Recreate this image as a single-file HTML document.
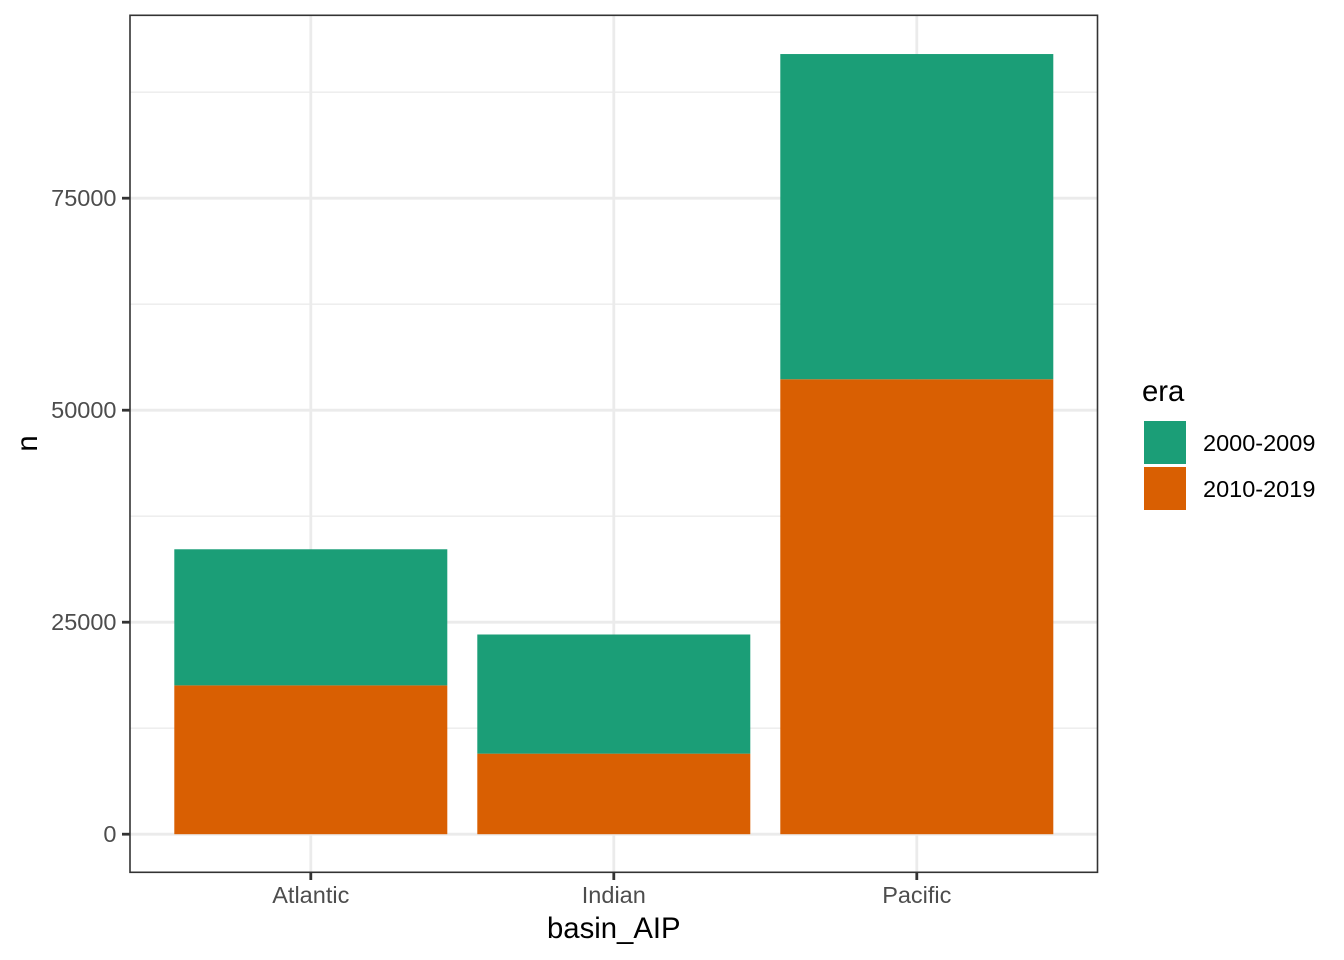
<!DOCTYPE html>
<html>
<head>
<meta charset="utf-8">
<style>
html,body{margin:0;padding:0;background:#fff;width:1344px;height:960px;overflow:hidden}
svg{display:block;font-family:"Liberation Sans",Arial,sans-serif}
</style>
</head>
<body>
<svg id="chart" width="1344" height="960" viewBox="0 0 1344 960" xmlns="http://www.w3.org/2000/svg"></svg>
<script>
const categories = ["Atlantic", "Indian", "Pacific"];
const seriesNames = ["2000-2009", "2010-2019"];
const values2000 = [16050, 14050, 38350];
const values2010 = [17550, 9500, 53650];
const yTicks = [0, 25000, 50000, 75000];
const yMinorTicks = [12500, 37500, 62500, 87500];

const colors = ["#1B9E77", "#D95F02"];
const svg = document.getElementById("chart");
const NS = "http://www.w3.org/2000/svg";
const panel = {l: 130, r: 1097.5, t: 15.3, b: 872.3};

function y(v) { return 834.2 - v * 212 / 25000; }
function x(i) { return 310.8 + i * 303; }
const barWidth = 273;

function add(tag, attrs, text) {
  const el = document.createElementNS(NS, tag);
  for (const k in attrs) el.setAttribute(k, attrs[k]);
  if (text !== undefined) el.textContent = text;
  svg.appendChild(el);
  return el;
}

const bg = add("rect", {x: 0, y: 0, width: 1344, height: 960, fill: "#fff"});



yMinorTicks.forEach(function (v) {
  const g = add("line", {x1: panel.l, x2: panel.r, y1: y(v), y2: y(v), stroke: "#EBEBEB", "stroke-width": 1.4});
  
  
});
yTicks.forEach(function (v) {
  const g = add("line", {x1: panel.l, x2: panel.r, y1: y(v), y2: y(v), stroke: "#EBEBEB", "stroke-width": 2.8});
  
  
});
categories.forEach(function (c, i) {
  const g = add("line", {x1: x(i), x2: x(i), y1: panel.t, y2: panel.b, stroke: "#EBEBEB", "stroke-width": 2.8});
  
  
});

categories.forEach(function (c, i) {
  const lower = values2010[i];
  const upper = values2000[i];
  const b1 = add("rect", {x: x(i) - barWidth / 2, width: barWidth, y: y(lower), height: y(0) - y(lower), fill: colors[1]});
  
  
  const b2 = add("rect", {x: x(i) - barWidth / 2, width: barWidth, y: y(lower + upper), height: y(lower) - y(lower + upper), fill: colors[0]});
  
  
});

const border = add("rect", {x: panel.l, y: panel.t, width: panel.r - panel.l, height: panel.b - panel.t, fill: "none", stroke: "#333333", "stroke-width": 1.6});



yTicks.forEach(function (v) {
  const t = add("line", {x1: 122, x2: panel.l, y1: y(v), y2: y(v), stroke: "#333333", "stroke-width": 2.8});
  
  
  const l = add("text", {x: 116.5, y: y(v) + 8, "text-anchor": "end", "font-size": 23.5, fill: "#4D4D4D"}, String(v));
  
  
});
categories.forEach(function (c, i) {
  const t = add("line", {x1: x(i), x2: x(i), y1: panel.b, y2: 880, stroke: "#333333", "stroke-width": 2.8});
  
  
  const l = add("text", {x: x(i), y: 903, "text-anchor": "middle", "font-size": 23.5, fill: "#4D4D4D"}, c);
  
  
});

const xt = add("text", {x: 613.8, y: 938, "text-anchor": "middle", "font-size": 29.3, fill: "#000"}, "basin_AIP");


const yt = add("text", {x: 0, y: 0, "text-anchor": "middle", "font-size": 29.3, fill: "#000", transform: "translate(37,443.5) rotate(-90)"}, "n");



const lt = add("text", {x: 1142, y: 401, "font-size": 29.3, fill: "#000"}, "era");



seriesNames.forEach(function (s, i) {
  const top = 421 + i * 46;
  const k = add("rect", {x: 1144, y: top, width: 42, height: 43, fill: colors[i]});
  
  
  const l = add("text", {x: 1203, y: top + 30, "font-size": 23.5, fill: "#000"}, s);
  
  
});
</script>
</body>
</html>
